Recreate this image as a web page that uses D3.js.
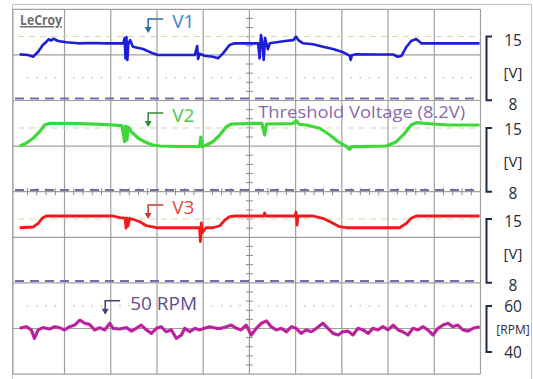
<!DOCTYPE html>
<html>
<head>
<meta charset="utf-8">
<script src="https://cdn.jsdelivr.net/npm/d3@7/dist/d3.min.js"></script>
<style>
  body { margin: 0; background: #fff; }
  text { font-family: "Open Sans", "Noto Sans", sans-serif; }
</style>
</head>
<body>
<script>
// time in screen divisions (0..10), values in volts / rpm
const v1Trace = [[0.03,13.04],[0.21,12.97],[0.32,12.78],[0.43,13.33],[0.53,14.07],[0.61,14.43],[0.66,14.7],[0.71,14.55],[0.76,14.75],[0.86,14.51],[1.04,14.36],[1.3,14.25],[1.6,14.28],[1.9,14.24],[2.27,14.25],[2.30,14.84],[2.32,12.6],[2.34,14.95],[2.36,12.42],[2.38,14.18],[2.42,14.6],[2.48,13.88],[2.70,13.63],[2.91,13.15],[3.02,12.97],[3.4,12.97],[3.82,12.97],[3.87,13.96],[3.89,12.53],[3.92,13.1],[4.03,12.89],[4.21,12.78],[4.32,12.6],[4.43,13.15],[4.57,14.07],[4.68,14.25],[5.19,14.25],[5.22,12.6],[5.25,15.16],[5.28,14.3],[5.31,12.42],[5.34,14.84],[5.40,13.6],[5.44,14.25],[5.77,14.5],[5.95,14.6],[6.01,14.98],[6.06,14.6],[6.16,14.25],[6.38,14.14],[6.59,13.88],[6.81,13.63],[7.03,13.26],[7.17,12.89],[7.19,12.42],[7.22,12.95],[7.31,13.04],[7.7,13.02],[8.11,13.02],[8.21,12.78],[8.29,12.86],[8.40,13.88],[8.50,14.51],[8.61,14.73],[8.72,14.25],[9.3,14.25],[9.98,14.25]];

const v2Trace = [[0.03,13.02],[0.17,13.32],[0.32,13.87],[0.46,14.59],[0.57,15.33],[0.68,15.52],[1.33,15.49],[1.8,15.4],[2.05,15.33],[2.24,15.27],[2.30,13.49],[2.32,15.22],[2.35,13.68],[2.38,15.11],[2.44,14.64],[2.59,13.90],[2.73,13.49],[2.91,13.13],[3.06,13.02],[3.5,12.97],[3.92,12.97],[3.95,14.01],[3.98,12.95],[4.07,13.13],[4.21,13.49],[4.36,14.23],[4.50,15.14],[4.61,15.44],[5.27,15.52],[5.33,14.23],[5.37,15.44],[5.94,15.49],[6.01,15.80],[6.08,15.4],[6.23,15.33],[6.52,14.97],[6.74,14.23],[6.92,13.49],[7.10,12.95],[7.17,12.66],[7.22,12.95],[7.39,12.95],[7.96,13.02],[8.18,13.49],[8.36,14.42],[8.50,15.33],[8.61,15.58],[8.97,15.44],[9.3,15.33],[9.98,15.33]];

const v3Trace = [[0.03,14.04],[0.32,14.12],[0.43,14.53],[0.53,15.14],[0.61,15.33],[1.5,15.33],[2.05,15.33],[2.19,15.14],[2.31,15.1],[2.33,14.01],[2.35,15.1],[2.37,14.2],[2.41,15.08],[2.63,14.70],[2.77,14.26],[2.99,14.04],[3.5,14.04],[3.92,14.04],[3.94,12.51],[3.96,14.56],[3.98,13.5],[4.06,14.04],[4.21,14.04],[4.36,14.26],[4.47,14.89],[4.57,15.25],[4.7,15.33],[5.31,15.33],[5.33,15.66],[5.36,15.33],[5.99,15.33],[6.01,15.77],[6.03,14.34],[6.05,15.33],[6.38,15.33],[6.59,15.08],[6.81,14.53],[6.95,14.15],[7.10,14.04],[7.7,14.04],[8.25,14.04],[8.40,14.53],[8.50,15.08],[8.61,15.33],[9.3,15.33],[9.98,15.33]];

const rpmTrace = [[0.03,50.3],[0.17,51.0],[0.28,49.6],[0.35,45.9],[0.43,49.6],[0.53,50.6],[0.68,50.0],[0.79,51.0],[0.89,50.6],[1.00,49.6],[1.11,51.0],[1.22,51.7],[1.33,53.9],[1.44,52.5],[1.54,52.0],[1.65,49.6],[1.76,50.6],[1.87,49.6],[1.98,52.5],[2.05,50.3],[2.19,50.0],[2.34,50.6],[2.45,49.1],[2.55,50.3],[2.66,51.7],[2.77,49.6],[2.88,48.1],[2.99,50.3],[3.09,51.0],[3.20,48.8],[3.31,49.6],[3.42,45.9],[3.53,47.4],[3.60,50.3],[3.71,48.8],[3.82,50.3],[3.92,49.6],[4.03,50.3],[4.14,51.0],[4.28,50.3],[4.39,50.3],[4.50,51.0],[4.61,51.7],[4.72,50.3],[4.82,49.6],[4.93,51.7],[5.04,47.4],[5.15,50.3],[5.26,52.5],[5.37,53.5],[5.47,51.0],[5.58,49.6],[5.69,50.3],[5.80,48.8],[5.91,51.0],[6.01,50.3],[6.12,48.1],[6.23,49.6],[6.34,48.8],[6.45,50.3],[6.59,52.5],[6.70,50.3],[6.81,48.1],[6.92,47.4],[7.02,48.8],[7.13,49.1],[7.24,47.4],[7.35,50.3],[7.46,49.6],[7.57,48.1],[7.67,50.3],[7.78,49.6],[7.89,51.0],[8.00,49.6],[8.11,51.7],[8.22,49.6],[8.32,48.8],[8.43,47.4],[8.54,50.3],[8.65,49.6],[8.76,51.0],[8.86,49.6],[8.97,47.4],[9.08,50.3],[9.19,51.7],[9.30,52.5],[9.40,51.0],[9.51,51.7],[9.62,49.6],[9.73,49.1],[9.84,50.3],[9.98,51.0]];

const voltTicks = [15, 8];
const rpmTicks = [60, 40];
const thresholdVolt = 8.2;

const W = 533, H = 379;
const svg = d3.select("body").append("svg").attr("width", W).attr("height", H);

// screen graticule: 10 x 8 divisions
const x = d3.scaleLinear().domain([0, 10]).range([18.3, 480.5]);
const gy = d3.scaleLinear().domain([0, 8]).range([9.3, 374.1]);

// one vertical scale per channel
const y1 = d3.scaleLinear().domain([8.2, 15]).range([98.4, 36.5]);
const y2 = d3.scaleLinear().domain([8.2, 15]).range([189.9, 128]);
const y3 = d3.scaleLinear().domain([8.2, 15]).range([280.9, 219]);
const yR = d3.scaleLinear().domain([40, 60]).range([352, 306]);

// outer frame
svg.append("path")
    .attr("d", "M12.5," + H + "V4.5H531.5V" + H)
    .attr("fill", "none").attr("stroke", "#b9c3cc").attr("stroke-width", 1);

const grid = svg.append("g");
grid.append("line").attr("x1", 13).attr("x2", 13).attr("y1", gy(0)).attr("y2", gy(8))
    .attr("stroke", "#a0a0a0").attr("stroke-width", 1.2);
grid.selectAll(".vg").data(d3.range(1, 11)).enter().append("line")
    .attr("x1", d => x(d)).attr("x2", d => x(d))
    .attr("y1", gy(0)).attr("y2", gy(8))
    .attr("stroke", "#a0a0a0").attr("stroke-width", 1.2);
grid.selectAll(".hg").data(d3.range(0, 9)).enter().append("line")
    .attr("x1", 13).attr("x2", x(10))
    .attr("y1", d => gy(d)).attr("y2", d => gy(d))
    .attr("stroke", "#a0a0a0").attr("stroke-width", 1.2);

// centre axes minor ticks
const minorX = d3.range(0, 50).map(i => i / 5).filter(d => d % 1 !== 0);
const minorY = d3.range(0, 40).map(i => i / 5).filter(d => d % 1 !== 0);
grid.selectAll(".mt").data(minorY).enter().append("line")
    .attr("x1", x(5) - 3.5).attr("x2", x(5) + 3.5)
    .attr("y1", d => gy(d)).attr("y2", d => gy(d))
    .attr("stroke", "#8a8a8a").attr("stroke-width", 1);
grid.selectAll(".mtx").data(minorX).enter().append("line")
    .attr("x1", d => x(d)).attr("x2", d => x(d))
    .attr("y1", gy(4) - 3.5).attr("y2", gy(4) + 3.5)
    .attr("stroke", "#8a8a8a").attr("stroke-width", 1);

// dotted half-division rows
[1.5, 6.5].forEach(r => {
  grid.selectAll(null).data(minorX).enter().append("circle")
      .attr("cx", d => x(d)).attr("cy", gy(r)).attr("r", 0.9)
      .attr("fill", "#c4c4c4");
});

// 15 V reference lines (light dashed)
[y1, y2, y3].forEach(s => {
  svg.append("line").attr("x1", 18).attr("x2", x(10))
      .attr("y1", s(15)).attr("y2", s(15))
      .attr("stroke", "#dcd6ac").attr("stroke-width", 1.2)
      .attr("stroke-dasharray", "6,5");
});

// threshold lines
[y1, y2, y3].forEach(s => {
  svg.append("line").attr("x1", 15).attr("x2", x(10))
      .attr("y1", s(thresholdVolt)).attr("y2", s(thresholdVolt))
      .attr("stroke", "#7c6aa8").attr("stroke-width", 2)
      .attr("stroke-dasharray", "9,6");
});

// traces
function drawTrace(data, ys, color, width) {
  const line = d3.line().x(d => x(d[0])).y(d => ys(d[1]));
  svg.append("path").datum(data)
      .attr("fill", "none").attr("stroke", color)
      .attr("stroke-width", width).attr("stroke-linejoin", "round")
      .attr("d", line);
}
drawTrace(v1Trace, y1, "#1c1ed8", 2.6);
drawTrace(v2Trace, y2, "#3fd83a", 3.2);
drawTrace(v3Trace, y3, "#f01a1e", 2.8);
drawTrace(rpmTrace, yR, "#d21f98", 3.2);
drawTrace(rpmTrace, yR, "#9a2ca6", 1.1);

// channel markers and labels
function marker(px, py, color, label, labelColor, dx) {
  const g = svg.append("g");
  g.append("path").attr("d", "M" + (px + 15) + "," + py + "H" + px + "V" + (py + 9))
      .attr("fill", "none").attr("stroke", color).attr("stroke-width", 1.5);
  g.append("path").attr("d", "M" + (px - 3.5) + "," + (py + 8) + "L" + (px + 3.5) + "," + (py + 8) + "L" + px + "," + (py + 14) + "Z")
      .attr("fill", color);
  g.append("text").attr("x", px + dx).attr("y", py + 9)
      .attr("font-size", 19).attr("fill", labelColor).text(label);
}
marker(x(2.81), y1(16.92), "#2a6aa8", "V1", "#3c86c8", 24);
marker(x(2.81), y2(16.65), "#2f8a3a", "V2", "#4cc84c", 24);
marker(x(2.81), y3(16.54), "#c83a30", "V3", "#e8483e", 24);
marker(x(1.88), yR(62.3), "#4e3c80", "50 RPM", "#5e4c8c", 25);

svg.append("text").attr("x", x(5.19)).attr("y", y2(16.1))
    .attr("font-size", 16.5).attr("fill", "#8a6ab0")
    .attr("textLength", 207).attr("lengthAdjust", "spacingAndGlyphs")
    .text("Threshold Voltage (" + thresholdVolt + "V)");

// LeCroy logo
svg.append("text").attr("x", 20).attr("y", 25)
    .attr("font-size", 15).attr("font-weight", "bold").attr("fill", "#6e6e6e")
    .attr("textLength", 42).attr("lengthAdjust", "spacingAndGlyphs")
    .attr("text-decoration", "underline")
    .text("LeCroy");

// right side brackets with scale labels
function bracket(s, ticks, unit, off, unitSize) {
  const top = s(ticks[0]), bot = s(ticks[1]);
  svg.append("path")
      .attr("d", "M492," + top + "H486.5V" + bot + "H492")
      .attr("fill", "none").attr("stroke", "#1e2a4a").attr("stroke-width", 2);
  const lab = svg.append("g").attr("fill", "#2a2a36").attr("text-anchor", "middle");
  lab.append("text").attr("x", 513).attr("y", top + off).attr("dy", "0.35em")
      .attr("font-size", 15.5).text(ticks[0]);
  lab.append("text").attr("x", 513).attr("y", (top + bot) / 2 + off).attr("dy", "0.35em")
      .attr("font-size", unitSize).text(unit);
  lab.append("text").attr("x", 513).attr("y", bot + off).attr("dy", "0.35em")
      .attr("font-size", 15.5).text(ticks[1]);
}
bracket(y1, voltTicks, "[V]", 4, 15);
bracket(y2, voltTicks, "[V]", 2, 15);
bracket(y3, voltTicks, "[V]", 3, 15);
bracket(yR, rpmTicks, "[RPM]", 1, 12);
</script>
</body>
</html>
